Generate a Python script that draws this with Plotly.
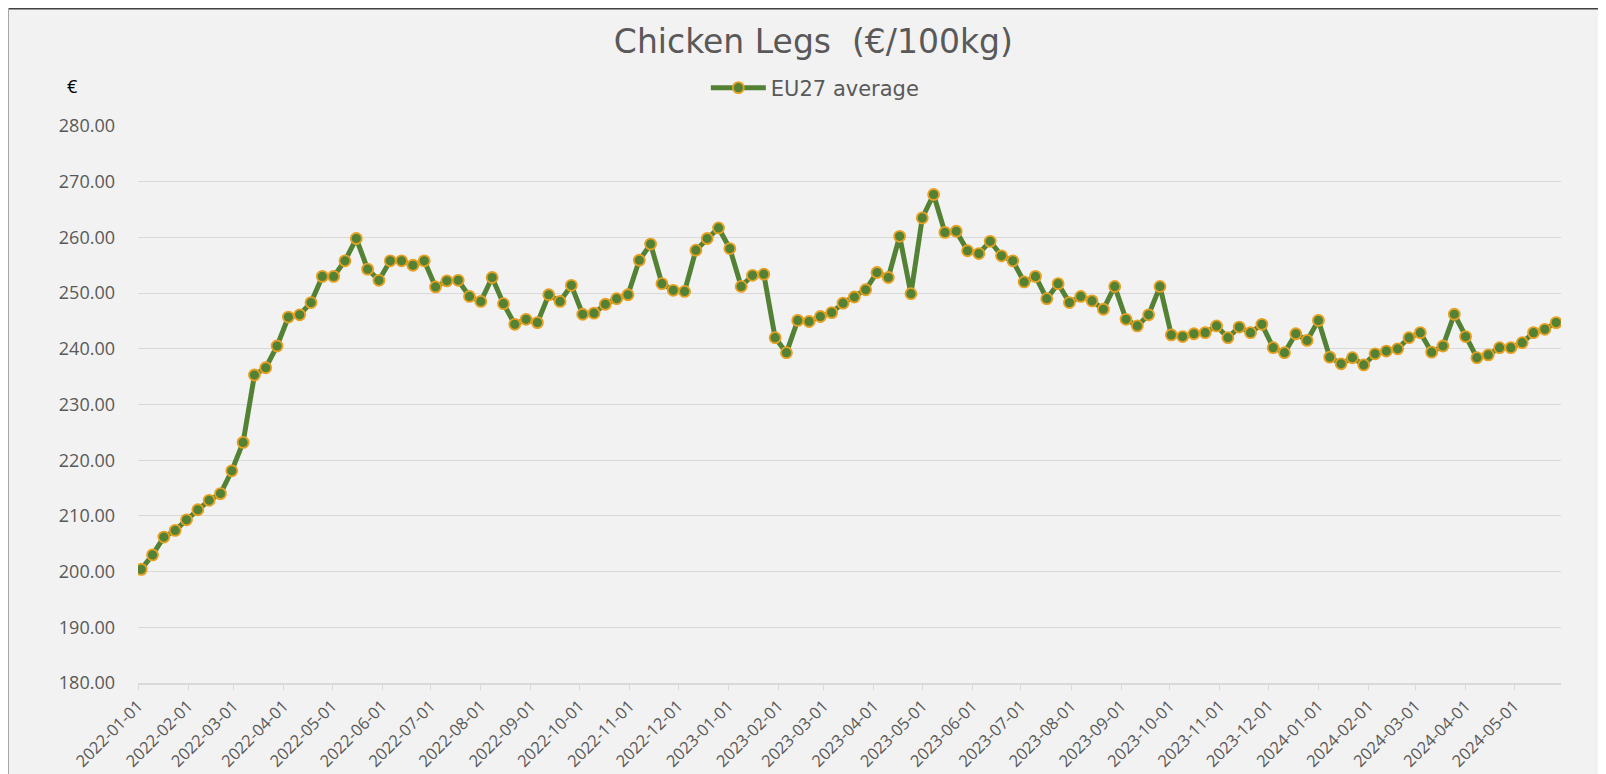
import pandas as pd
import plotly.graph_objects as go

# Weekly EU27 average price of chicken legs (EUR / 100 kg)
start_date = "2022-01-03"
eu27_average = [
    200.4, 203.0, 206.2, 207.4, 209.3, 211.1, 212.8, 214.0, 218.1, 223.2,
    235.3, 236.6, 240.5, 245.7, 246.1, 248.3, 253.0, 253.0, 255.8, 259.8,
    254.3, 252.3, 255.8, 255.8, 255.0, 255.8, 251.1, 252.2, 252.3, 249.4,
    248.5, 252.8, 248.1, 244.4, 245.3, 244.7, 249.7, 248.5, 251.4, 246.2,
    246.4, 248.0, 249.0, 249.7, 255.9, 258.8, 251.7, 250.5, 250.3, 257.7,
    259.8, 261.7, 258.0, 251.2, 253.2, 253.4, 242.0, 239.3, 245.1, 244.9,
    245.8, 246.5, 248.2, 249.3, 250.6, 253.7, 252.8, 260.2, 249.9, 263.5,
    267.7, 260.9, 261.1, 257.6, 257.1, 259.3, 256.7, 255.8, 252.0, 253.0,
    249.0, 251.7, 248.3, 249.4, 248.6, 247.1, 251.2, 245.3, 244.1, 246.1,
    251.2, 242.5, 242.2, 242.7, 242.9, 244.1, 242.0, 243.9, 242.9, 244.4,
    240.2, 239.3, 242.7, 241.5, 245.1, 238.5, 237.3, 238.4, 237.1, 239.1,
    239.6, 240.0, 242.0, 242.9, 239.4, 240.5, 246.2, 242.2, 238.4, 238.9,
    240.2, 240.2, 241.1, 242.9, 243.5, 244.7,
]
weeks = pd.date_range(start=start_date, periods=len(eu27_average), freq="7D")

title_text = "Chicken Legs  (€/100kg)"
series_name = "EU27 average"
y_ticks = [180, 190, 200, 210, 220, 230, 240, 250, 260, 270, 280]

W, H = 1598, 766
ML, MR, MT, MB = 130, 45, 118, 91
pw, ph = W - ML - MR, H - MT - MB

fig = go.Figure()
fig.add_trace(go.Scatter(
    x=weeks, y=eu27_average, name=series_name, mode="lines+markers",
    line=dict(color="#548235", width=5),
    marker=dict(size=11, color="#548235", line=dict(color="#E8A020", width=1.8)),
))

grey = "#595959"
fig.update_layout(
    width=W, height=H,
    margin=dict(l=ML, r=MR, t=MT, b=MB, autoexpand=False),
    paper_bgcolor="#f2f2f2", plot_bgcolor="#f2f2f2",
    font=dict(family="Open Sans", color=grey),
    title=dict(text=title_text, x=0.504, xanchor="center",
               y=1 - 33 / H, yanchor="middle",
               font=dict(size=33, color=grey, family="DejaVu Sans")),
    showlegend=True,
    legend=dict(orientation="h", x=0.476, xanchor="center",
                y=(ph - (80 - MT)) / ph, yanchor="middle", itemwidth=55,
                font=dict(size=21, color=grey, family="DejaVu Sans"),
                bgcolor="rgba(0,0,0,0)"),
    xaxis=dict(
        type="date", range=["2022-01-01", "2024-05-30"], automargin=False,
        tick0="2022-01-01", dtick="M1", tickformat="%Y-%m-%d",
        tickangle=-45, tickfont=dict(size=16.5, color=grey),
        showgrid=False, showline=True, linecolor="#d9d9d9", linewidth=1.5,
        ticks="outside", ticklen=5, tickcolor="#d9d9d9", zeroline=False,
    ),
    yaxis=dict(
        range=[180, 280], tickvals=y_ticks, automargin=False,
        ticktext=[f"{v:.2f}" for v in y_ticks],
        tickfont=dict(size=18, color=grey), ticklabelstandoff=22,
        showgrid=True, gridcolor="#d9d9d9", gridwidth=1.2,
        zeroline=False, showline=False,
    ),
)

fig.add_annotation(text="€", xref="paper", yref="paper",
                   x=(64 - ML) / pw, y=(ph - (78 - MT)) / ph,
                   showarrow=False, font=dict(size=18, color="#000000"),
                   xanchor="center", yanchor="middle")

# chart border (top dark, left grey)
top_y = 1 + MT / ph
left_x = -ML / pw
fig.add_shape(type="line", xref="paper", yref="paper", x0=left_x, x1=1 + MR / pw,
              y0=top_y, y1=top_y, line=dict(color="#404040", width=3))
fig.add_shape(type="line", xref="paper", yref="paper", x0=left_x, x1=left_x,
              y0=-MB / ph, y1=top_y, line=dict(color="#a6a6a6", width=2))

fig.write_html("out.html")
